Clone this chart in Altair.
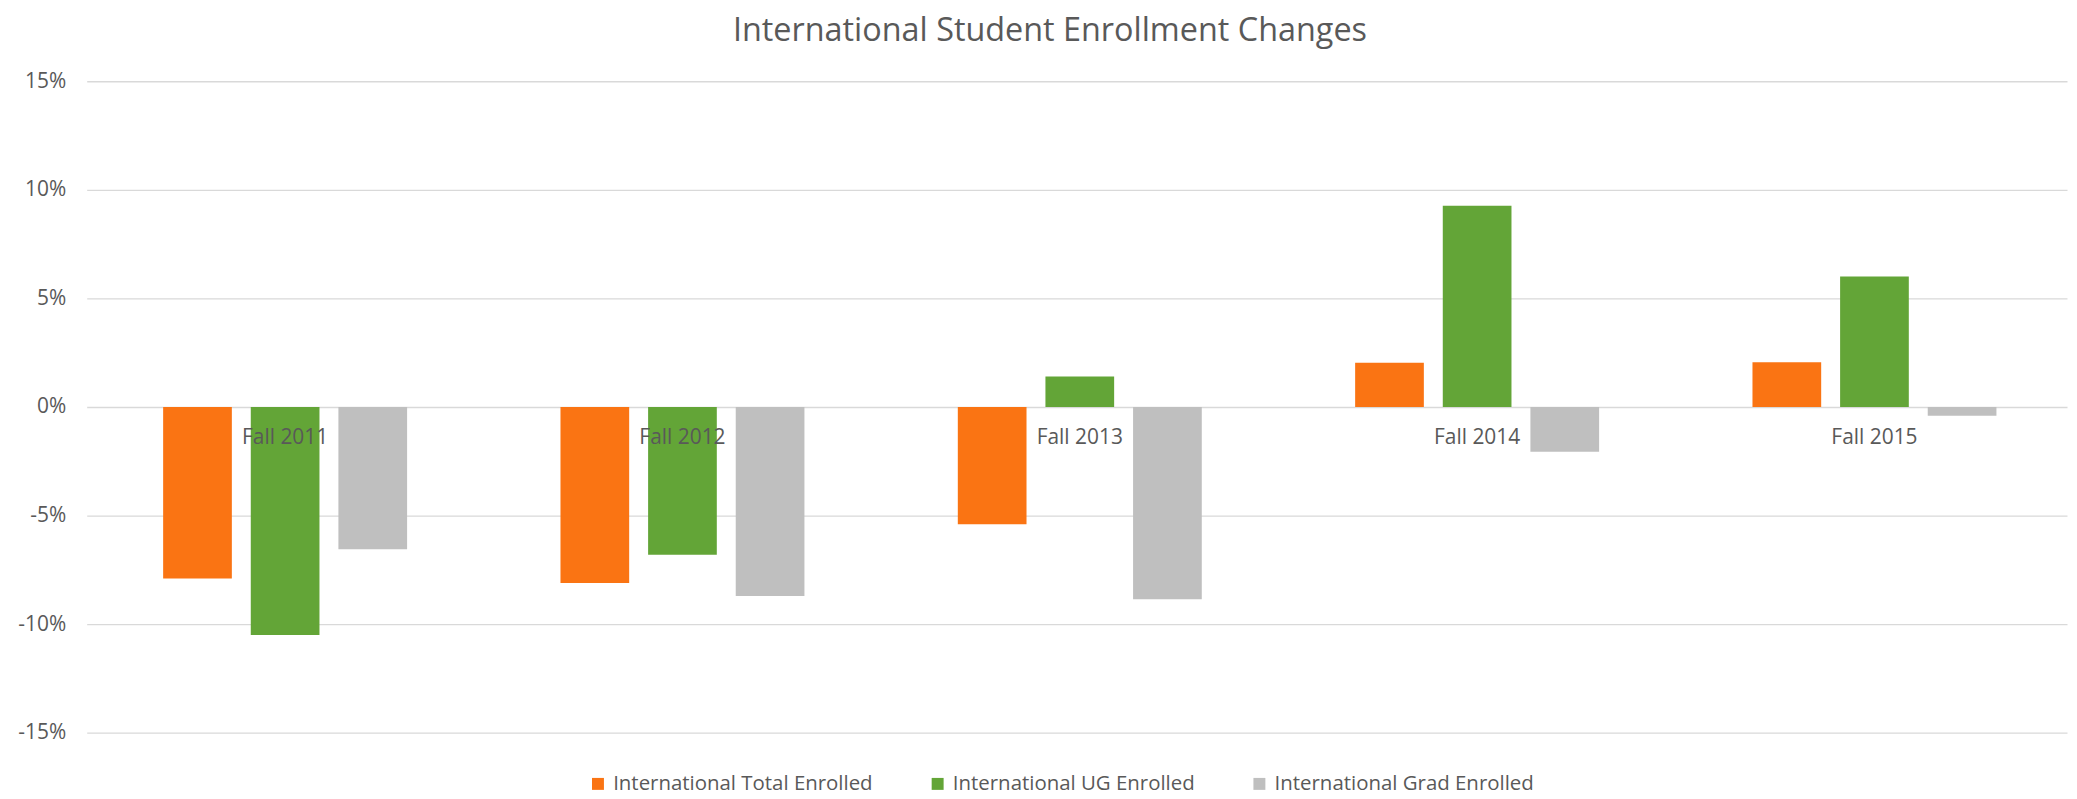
import altair as alt
import pandas as pd

categories = ["Fall 2011", "Fall 2012", "Fall 2013", "Fall 2014", "Fall 2015"]
series = ["International Total Enrolled", "International UG Enrolled", "International Grad Enrolled"]
total_enrolled = [-0.079, -0.081, -0.054, 0.0204, 0.0206]
ug_enrolled = [-0.105, -0.068, 0.014, 0.0927, 0.0601]
grad_enrolled = [-0.0655, -0.087, -0.0885, -0.0206, -0.004]
colors = ["#FA7413", "#63A537", "#BFBFBF"]
y_ticks = [-0.15, -0.10, -0.05, 0, 0.05, 0.10, 0.15]

rows = []
for s, vals in zip(series, [total_enrolled, ug_enrolled, grad_enrolled]):
    for c, v in zip(categories, vals):
        rows.append({"Year": c, "Series": s, "Change": v})
df = pd.DataFrame(rows)

FONT = "Open Sans"
TXT = "#595959"

chart = alt.Chart(df).mark_bar().encode(
    x=alt.X(
        "Year:N", sort=categories, title=None,
        scale=alt.Scale(paddingInner=0.386, paddingOuter=0.185, align=0.52),
        axis=alt.Axis(orient="bottom", offset=-327, domain=False, ticks=False,
                      labelAngle=0, labelPadding=20, labelFontSize=21,
                      labelColor=TXT, labelFont=FONT, zindex=1, grid=False),
    ),
    xOffset=alt.XOffset("Series:N", sort=series,
                        scale=alt.Scale(paddingInner=0.216, paddingOuter=0)),
    y=alt.Y(
        "Change:Q", title=None,
        scale=alt.Scale(domain=[-0.15, 0.15], nice=False),
        axis=alt.Axis(values=y_ticks,
                      labelExpr="(datum.value < 0 ? '-' : '') + format(abs(datum.value), '.0%')",
                      domain=False, ticks=False, gridColor="#D9D9D9", gridWidth=1.3,
                      labelFontSize=21, labelColor=TXT, labelFont=FONT, labelPadding=21),
    ),
    color=alt.Color(
        "Series:N", sort=series,
        scale=alt.Scale(domain=series, range=colors),
        legend=alt.Legend(title=None, orient="none", legendX=503, legendY=695,
                          direction="horizontal", symbolType="square", symbolSize=144,
                          symbolStrokeWidth=0, labelFontSize=20.5, labelColor=TXT,
                          labelFont=FONT, columnPadding=54, labelOffset=5, padding=0,
                          labelLimit=600),
    ),
).properties(
    width=1988,
    height=654,
    title=alt.Title("International Student Enrollment Changes", fontSize=32.5, font=FONT,
                    fontWeight="normal", color=TXT, anchor="middle", offset=23,
                    dx=-27, frame="group"),
    autosize=alt.AutoSizeParams(type="none"),
    padding={"left": 79, "top": 72, "right": 2, "bottom": 64},
    background="white",
).configure_view(stroke=None)

chart.save("out.html", embed_options={"renderer": "svg", "actions": False})
